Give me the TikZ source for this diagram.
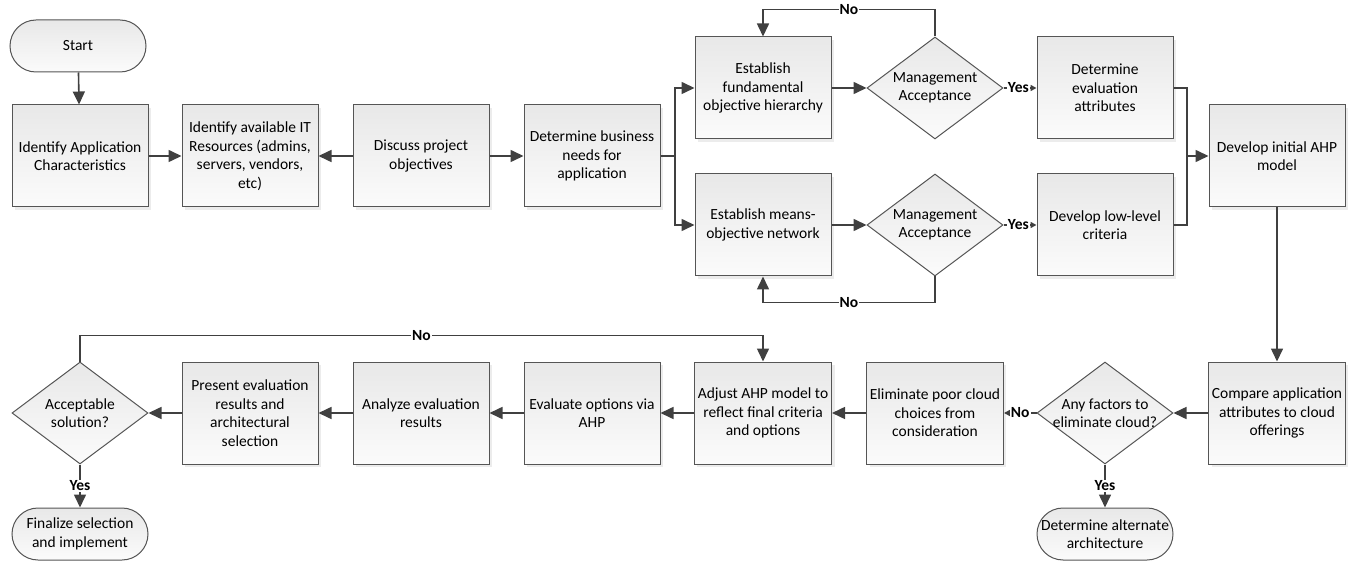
\documentclass[tikz,border=0pt]{standalone}
\usepackage{fontspec}
\setmainfont{Carlito}
\usetikzlibrary{arrows.meta,positioning,shapes.geometric,shadows}
\definecolor{FlLinea}{HTML}{404040}
\definecolor{FlBorde}{HTML}{555555}

\begin{document}
\begin{tikzpicture}[x=1pt,y=-1pt,font=\fontsize{15.5}{18.5}\selectfont,>={Triangle[length=13pt,width=12pt]},
 caja/.style={draw=FlBorde,line width=1pt,top color=gray!18,bottom color=gray!3,text=black,align=center},
 proc/.style={caja,rectangle,minimum width=136pt,minimum height=102pt,drop shadow={shadow xshift=3pt,shadow yshift=-3pt,fill=gray!30}},
 decis/.style={caja,diamond,minimum width=136pt,minimum height=102pt,inner sep=0pt},
 term/.style={caja,rectangle,rounded corners=26pt,minimum width=136pt,minimum height=52pt,inner sep=2pt},
 linea/.style={draw=FlLinea,line width=1.6pt},
 flujo/.style={linea,->},
 corto/.style={linea,-{Triangle[length=6pt,width=6pt]}},
 resp/.style={fill=white,inner sep=1pt,font=\fontsize{15.5}{17}\selectfont\bfseries}]
\useasboundingbox (0,0) rectangle (1349,561);
% upper row
\node[term] (inicio) at (78,46) {Start};
\node[proc] (carac) at (80,156) {Identify Application\\Characteristics};
\node[proc] (recur) at (250,156) {Identify available IT\\Resources (admins,\\servers, vendors,\\etc)};
\node[proc] (discu) at (421,156) {Discuss project\\objectives};
\node[proc] (negoc) at (592,156) {Determine business\\needs for\\application};
\node[proc] (jerar) at (763,88) {Establish\\fundamental\\objective hierarchy};
\node[decis,label={[align=center]center:Management\\Acceptance}] (acep1) at (935,88) {};
\node[proc] (atrib) at (1105,88) {Determine\\evaluation\\attributes};
\node[proc] (red) at (763,225) {Establish means-\\objective network};
\node[decis,label={[align=center]center:Management\\Acceptance}] (acep2) at (935,225) {};
\node[proc] (crit) at (1105,225) {Develop low-level\\criteria};
\node[proc] (ahp) at (1277,156) {Develop initial AHP\\model};
% lower row
\node[proc] (compa) at (1277,413) {Compare application\\attributes to cloud\\offerings};
\node[decis,label={[align=center]center:Any factors to\\eliminate cloud?}] (factor) at (1105,413) {};
\node[term] (alter) at (1105,534) {Determine alternate\\architecture};
\node[proc] (elim) at (935,413) {Eliminate poor cloud\\choices from\\consideration};
\node[proc] (ajust) at (763,413) {Adjust AHP model to\\reflect final criteria\\and options};
\node[proc] (evalu) at (592,413) {Evaluate options via\\AHP};
\node[proc] (anali) at (421,413) {Analyze evaluation\\results};
\node[proc] (prese) at (250,413) {Present evaluation\\results and\\architectural\\selection};
\node[decis,label={[align=center]center:Acceptable\\solution?}] (solu) at (80,413) {};
\node[term] (final) at (80,534) {Finalize selection\\and implement};
\coordinate (div) at (675,156);
\coordinate (union) at (1187,156);
% connectors
\draw[flujo] (inicio)--(carac);\draw[flujo] (carac)--(recur);\draw[flujo] (discu)--(recur);\draw[flujo] (discu)--(negoc);
\draw[linea] (negoc)--(div);\draw[flujo] (div)|-(jerar);\draw[flujo] (div)|-(red);
\draw[flujo] (jerar)--(acep1);\draw[flujo] (red)--(acep2);
\draw[corto] (acep1)--node[resp,pos=0.45]{Yes}(atrib);\draw[corto] (acep2)--node[resp,pos=0.45]{Yes}(crit);
\draw[flujo] (acep1.north)--++(0,-27) -| node[resp,pos=0.25]{No} (jerar.north);
\draw[flujo] (acep2.south)--++(0,26) -| node[resp,pos=0.25]{No} (red.south);
\draw[linea] (atrib.east)-|(union);\draw[linea] (crit.east)-|(union);\draw[flujo] (union)--(ahp);
\draw[flujo] (ahp)--(compa);\draw[flujo] (compa)--(factor);
\draw[corto] (factor)--node[resp]{No}(elim);\draw[flujo] (factor)--node[resp]{Yes}(alter);
\draw[flujo] (elim)--(ajust);\draw[flujo] (ajust)--(evalu);\draw[flujo] (evalu)--(anali);\draw[flujo] (anali)--(prese);\draw[flujo] (prese)--(solu);
\draw[flujo] (solu.north)--++(0,-26) -| node[resp,pos=0.25]{No} (ajust.north);
\draw[flujo] (solu)--node[resp]{Yes}(final);
\end{tikzpicture}
\end{document}
